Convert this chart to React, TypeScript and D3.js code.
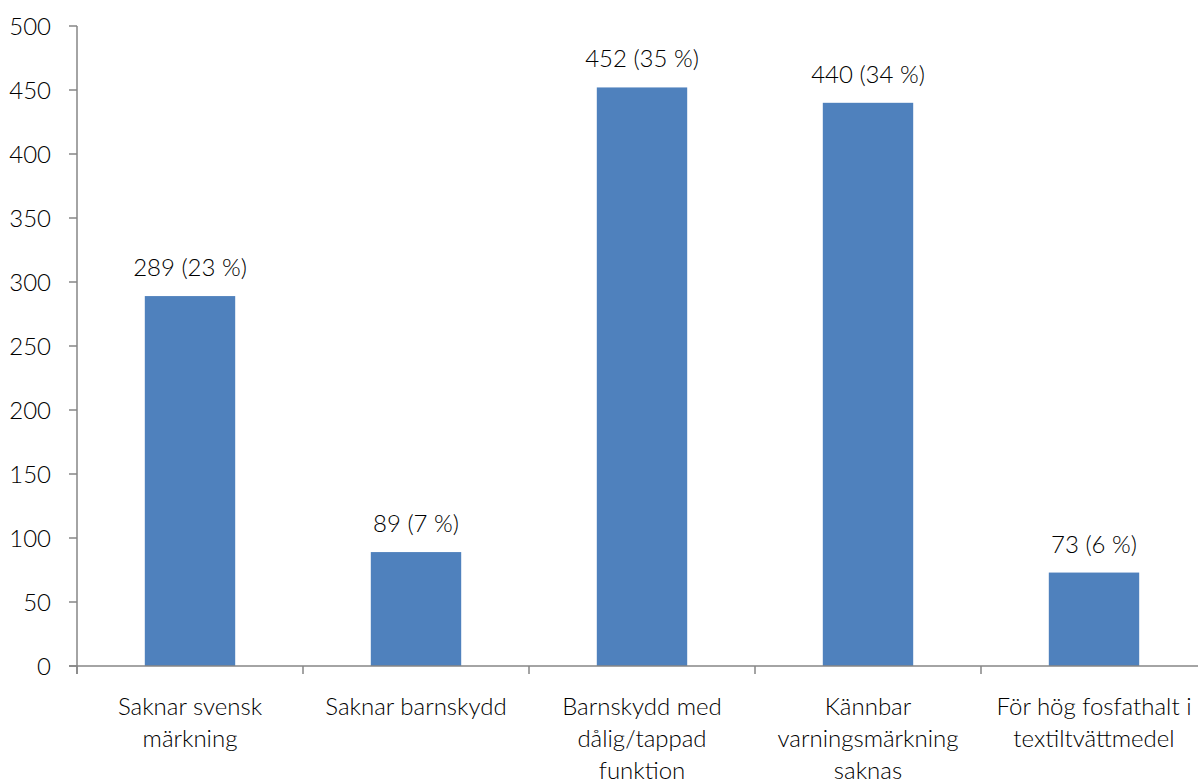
import { useEffect, useRef } from 'react';
import * as d3 from 'd3';

const categories = [
  ['Saknar svensk', 'märkning'],
  ['Saknar barnskydd'],
  ['Barnskydd med', 'dålig/tappad', 'funktion'],
  ['Kännbar', 'varningsmärkning', 'saknas'],
  ['För hög fosfathalt i', 'textiltvättmedel'],
];
const counts = [289, 89, 452, 440, 73];
const shares = [23, 7, 35, 34, 6];
const yTicks = [0, 50, 100, 150, 200, 250, 300, 350, 400, 450, 500];

const W = 1198;
const H = 783;
const FONT = 'Lato, "Open Sans", sans-serif';
const FS = 24;
const FW = 300;
const AXIS = '#868686';

const render = (svgEl: SVGSVGElement) => {
  const svg = d3.select(svgEl);
  svg.selectAll('*').remove();

  const keys = categories.map((_, i) => String(i));

  // slots between axis ticks
  const slot = d3.scaleBand().domain(keys).range([77, 1207]).padding(0);
  const x = d3
    .scaleBand()
    .domain(keys)
    .range([77, 1207])
    .paddingInner(0.6)
    .paddingOuter(0.3);
  const y = d3.scaleLinear().domain([0, 500]).range([666, 26]);

  // bars
  svg
    .append('g')
    .selectAll('rect')
    .data(counts)
    .enter()
    .append('rect')
    .attr('x', (_, i) => x(String(i))!)
    .attr('y', (d) => y(d))
    .attr('width', x.bandwidth())
    .attr('height', (d) => y(0) - y(d))
    .attr('fill', '#4F81BD');

  // value labels
  svg
    .append('g')
    .selectAll('text')
    .data(counts)
    .enter()
    .append('text')
    .attr('x', (_, i) => x(String(i))! + x.bandwidth() / 2)
    .attr('y', (d) => y(d) - 20)
    .attr('text-anchor', 'middle')
    .attr('font-family', FONT)
    .attr('font-size', FS)
    .attr('font-weight', FW)
    .attr('fill', '#000')
    .text((d, i) => `${d} (${shares[i]} %)`);

  // y axis
  const yAxis = svg.append('g');
  yAxis
    .append('line')
    .attr('x1', 77)
    .attr('x2', 77)
    .attr('y1', y(500))
    .attr('y2', y(0) + 8)
    .attr('stroke', AXIS)
    .attr('stroke-width', 1.5);
  const yt = yAxis.selectAll('g').data(yTicks).enter().append('g');
  yt.append('line')
    .attr('x1', 69)
    .attr('x2', 77)
    .attr('y1', (d) => y(d))
    .attr('y2', (d) => y(d))
    .attr('stroke', AXIS)
    .attr('stroke-width', 1.5);
  yt.append('text')
    .attr('x', 51)
    .attr('y', (d) => y(d))
    .attr('dy', '0.36em')
    .attr('text-anchor', 'end')
    .attr('font-family', FONT)
    .attr('font-size', FS)
    .attr('font-weight', FW)
    .attr('fill', '#000')
    .text((d) => d);

  // x axis
  const xAxis = svg.append('g');
  xAxis
    .append('line')
    .attr('x1', 69)
    .attr('x2', 1207)
    .attr('y1', y(0))
    .attr('y2', y(0))
    .attr('stroke', AXIS)
    .attr('stroke-width', 1.5);
  const bounds = keys.map((k) => slot(k)!).concat([slot.range()[1]]);
  xAxis
    .selectAll('line.tick')
    .data(bounds)
    .enter()
    .append('line')
    .attr('class', 'tick')
    .attr('x1', (d) => d)
    .attr('x2', (d) => d)
    .attr('y1', y(0))
    .attr('y2', y(0) + 8)
    .attr('stroke', AXIS)
    .attr('stroke-width', 1.5);

  // category labels
  const labels = xAxis
    .selectAll('text')
    .data(categories)
    .enter()
    .append('text')
    .attr('text-anchor', 'middle')
    .attr('font-family', FONT)
    .attr('font-size', FS)
    .attr('font-weight', FW)
    .attr('fill', '#000');
  labels
    .selectAll('tspan')
    .data((d, i) => d.map((line) => ({ line, i })))
    .enter()
    .append('tspan')
    .attr('x', (d) => slot(String(d.i))! + slot.bandwidth() / 2)
    .attr('y', (_, j) => 715 + j * 32)
    .text((d) => d.line);
};

export default function App() {
  const ref = useRef<SVGSVGElement>(null);
  useEffect(() => {
    if (ref.current) render(ref.current);
  }, []);
  return (
    <svg
      ref={ref}
      width={W}
      height={H}
      style={{ position: 'absolute', left: 0, top: 0, background: '#fff' }}
    />
  );
}
